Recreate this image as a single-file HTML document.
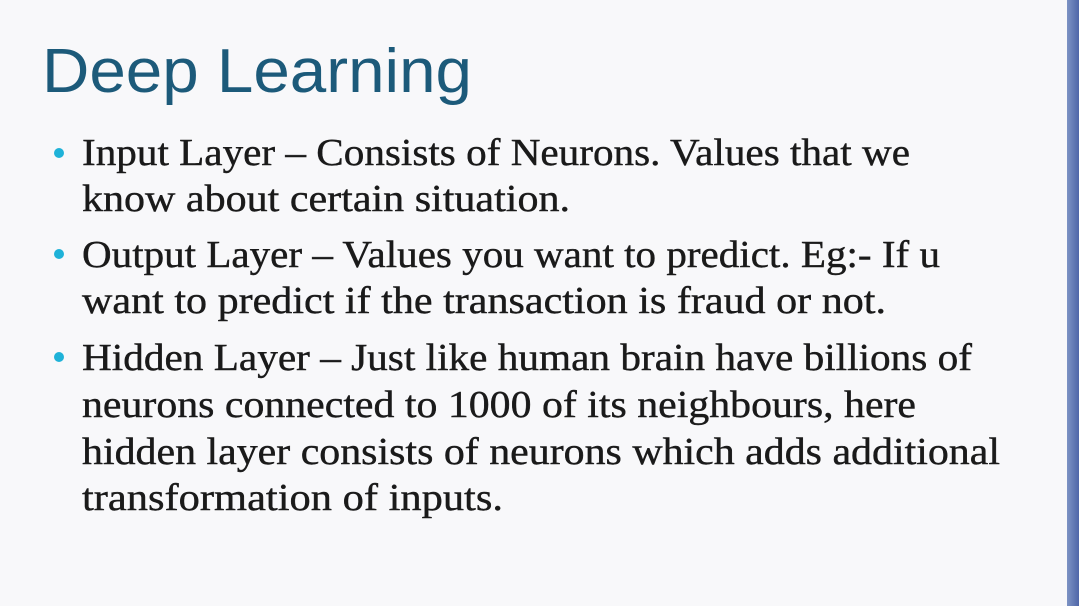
<!DOCTYPE html>
<html><head><meta charset="utf-8"><style>
html,body{margin:0;padding:0;background:#f8f8fa;}
svg{display:block;}
</style></head><body>
<svg width="1079" height="606" viewBox="0 0 1079 606">
<defs><linearGradient id="g" x1="0" x2="1"><stop offset="0" stop-color="#7d93c4"/><stop offset="1" stop-color="#4f66a8"/></linearGradient></defs>
<rect width="1079" height="606" fill="#f8f8fa"/>
<rect x="1067" y="0" width="12" height="606" fill="url(#g)"/>
<text x="42" y="92" textLength="430" lengthAdjust="spacingAndGlyphs" font-family="Liberation Sans, sans-serif" font-size="62" fill="#1c5a7a">Deep Learning</text>
<g font-family="Liberation Serif, serif" font-size="38" fill="#1a1a1a" stroke="#1a1a1a" stroke-width="0.4">
<circle cx="59" cy="153" r="5" fill="#1fb2d8" stroke="none"/>
<circle cx="59" cy="254" r="5" fill="#1fb2d8" stroke="none"/>
<circle cx="59" cy="357" r="5" fill="#1fb2d8" stroke="none"/>
<text x="82" y="165" textLength="828" lengthAdjust="spacingAndGlyphs">Input Layer – Consists of Neurons. Values that we</text>
<text x="82" y="211" textLength="488" lengthAdjust="spacingAndGlyphs">know about certain situation.</text>
<text x="82" y="267" textLength="858" lengthAdjust="spacingAndGlyphs">Output Layer – Values you want to predict. Eg:- If u</text>
<text x="82" y="313" textLength="804" lengthAdjust="spacingAndGlyphs">want to predict if the transaction is fraud or not.</text>
<text x="82" y="370" textLength="890" lengthAdjust="spacingAndGlyphs">Hidden Layer – Just like human brain have billions of</text>
<text x="82" y="417" textLength="834" lengthAdjust="spacingAndGlyphs">neurons connected to 1000 of its neighbours, here</text>
<text x="82" y="464" textLength="918" lengthAdjust="spacingAndGlyphs">hidden layer consists of neurons which adds additional</text>
<text x="82" y="510" textLength="421" lengthAdjust="spacingAndGlyphs">transformation of inputs.</text>
</g>
</svg>
</body></html>
